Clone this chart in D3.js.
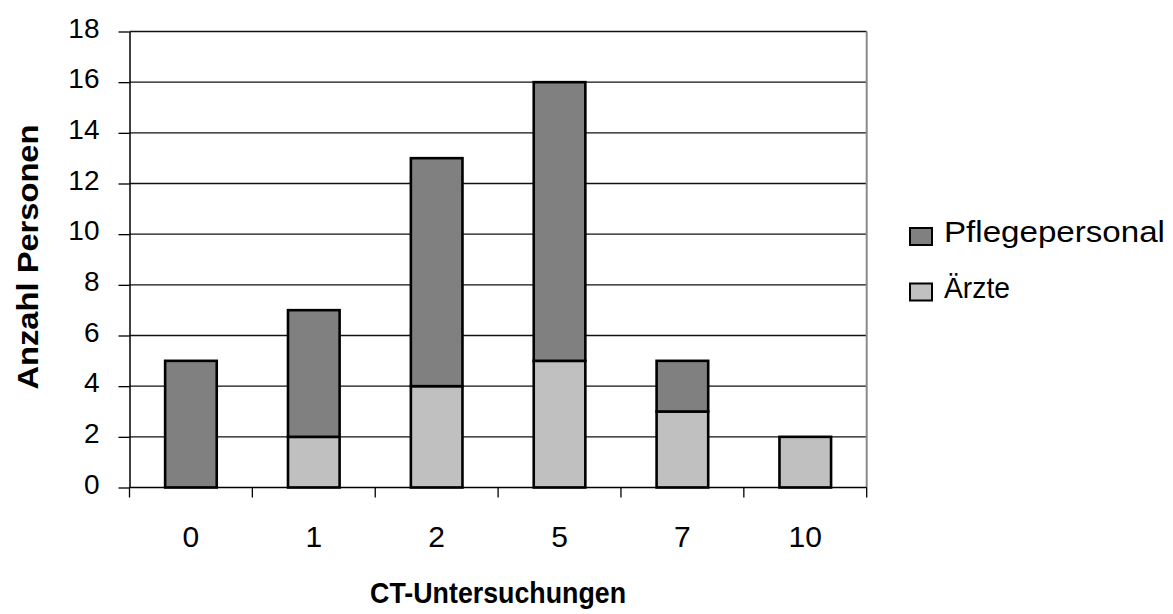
<!DOCTYPE html>
<html>
<head>
<meta charset="utf-8">
<script src="https://cdn.jsdelivr.net/npm/d3@7"></script>
<style>
  html, body { margin: 0; padding: 0; background: #fff; }
  svg { display: block; }
  text { font-family: "Liberation Sans", Arial, sans-serif; fill: #000; }
</style>
</head>
<body>
<svg id="chart" width="1173" height="614"></svg>
<script>
// CT examinations per person, split by staff group
const categories = ["0", "1", "2", "5", "7", "10"];
const aerzte = [0, 2, 4, 5, 3, 2];
const pflegepersonal = [5, 5, 9, 11, 2, 0];
const seriesNames = ["Ärzte", "Pflegepersonal"];
const yTicks = [0, 2, 4, 6, 8, 10, 12, 14, 16, 18];
const colors = { "Ärzte": "#c0c0c0", "Pflegepersonal": "#808080" };

const svg = d3.select("#chart");
const plotLeft = 129.5, plotRight = 866.7, plotTop = 31.5, plotBottom = 487.5;

const x = d3.scaleBand().domain(categories).range([plotLeft, plotRight])
  .paddingInner(0.58).paddingOuter(0.29);
const xEdges = d3.scaleBand().domain(categories).range([plotLeft, plotRight]).padding(0);
const y = d3.scaleLinear().domain([0, 18]).range([plotBottom, plotTop]);

// horizontal gridlines
svg.append("g").selectAll("line").data(yTicks.filter(d => d > 0)).join("line")
  .attr("x1", plotLeft).attr("x2", plotRight)
  .attr("y1", d => y(d)).attr("y2", d => y(d))
  .attr("stroke", "#111").attr("stroke-width", 1.3);

// right plot border
svg.append("line").attr("x1", plotRight).attr("x2", plotRight)
  .attr("y1", plotTop).attr("y2", plotBottom)
  .attr("stroke", "#8a8a8a").attr("stroke-width", 2);

// stacked bars
const rows = categories.map((c, i) => ({ cat: c, "Ärzte": aerzte[i], "Pflegepersonal": pflegepersonal[i] }));
const stacked = d3.stack().keys(seriesNames)(rows);
svg.append("g").selectAll("g").data(stacked).join("g")
  .attr("fill", d => colors[d.key])
  .selectAll("rect").data(d => d.filter(p => p[1] - p[0] > 0)).join("rect")
  .attr("x", d => x(d.data.cat))
  .attr("width", x.bandwidth())
  .attr("y", d => y(d[1]))
  .attr("height", d => y(d[0]) - y(d[1]))
  .attr("stroke", "#000").attr("stroke-width", 2.6);

// y axis
const yAxis = svg.append("g").attr("transform", `translate(${plotLeft},0)`)
  .call(d3.axisLeft(y).tickValues(yTicks).tickSize(11).tickPadding(19).tickSizeOuter(0));
yAxis.select(".domain").attr("stroke", "#000").attr("stroke-width", 1.5);
yAxis.selectAll(".tick line").attr("stroke", "#000").attr("stroke-width", 1.3);
yAxis.selectAll(".tick text").attr("font-size", 28).attr("dy", "0.2em")
  .style("font-family", "'Liberation Sans', Arial, sans-serif");

// x axis with ticks on category boundaries
const xAxis = svg.append("g").attr("transform", `translate(0,${plotBottom})`);
xAxis.append("line").attr("x1", plotLeft).attr("x2", plotRight).attr("y1", 0).attr("y2", 0)
  .attr("stroke", "#000").attr("stroke-width", 1.5);
const edges = categories.map(c => xEdges(c)).concat([plotRight]);
xAxis.selectAll("line.edge").data(edges).join("line").attr("class", "edge")
  .attr("x1", d => d).attr("x2", d => d).attr("y1", 0).attr("y2", 10)
  .attr("stroke", "#000").attr("stroke-width", 1.3);
xAxis.selectAll("text").data(categories).join("text")
  .attr("x", d => xEdges(d) + xEdges.bandwidth() / 2)
  .attr("y", 59)
  .attr("text-anchor", "middle")
  .attr("font-size", 30)
  .text(d => d);

// axis titles
svg.append("text")
  .attr("x", (plotLeft + plotRight) / 2).attr("y", 603)
  .attr("text-anchor", "middle").attr("font-size", 30).attr("font-weight", "bold")
  .attr("textLength", 256).attr("lengthAdjust", "spacingAndGlyphs")
  .text("CT-Untersuchungen");
svg.append("text")
  .attr("transform", "translate(38,257) rotate(-90)")
  .attr("text-anchor", "middle").attr("font-size", 30).attr("font-weight", "bold")
  .attr("textLength", 265).attr("lengthAdjust", "spacingAndGlyphs")
  .text("Anzahl Personen");

// legend
const legendItems = ["Pflegepersonal", "Ärzte"];
const legendTextLen = { "Pflegepersonal": 221, "Ärzte": 66 };
const lg = svg.append("g").selectAll("g").data(legendItems).join("g")
  .attr("transform", (d, i) => `translate(910,${228 + i * 55.5})`);
lg.append("rect").attr("width", 22).attr("height", 17)
  .attr("fill", d => colors[d]).attr("stroke", "#000").attr("stroke-width", 2);
lg.append("text").attr("x", 34).attr("y", 14)
  .attr("font-size", 29)
  .attr("textLength", d => legendTextLen[d]).attr("lengthAdjust", "spacingAndGlyphs")
  .text(d => d);
</script>
</body>
</html>
